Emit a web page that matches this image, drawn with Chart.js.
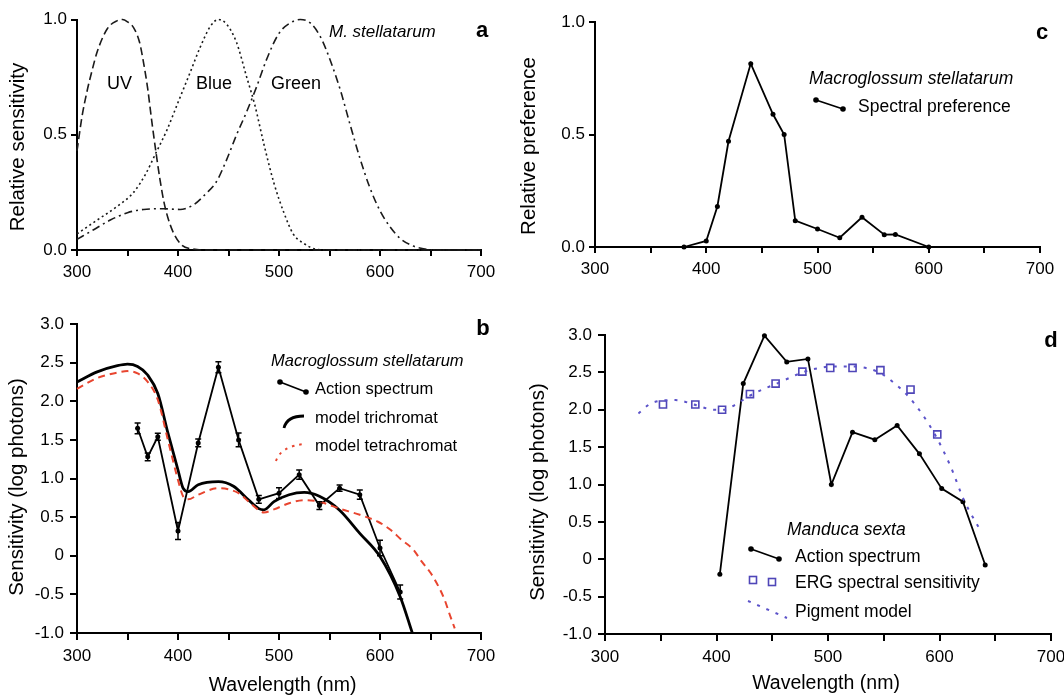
<!DOCTYPE html>
<html>
<head>
<meta charset="utf-8">
<script src="https://cdn.jsdelivr.net/npm/chart.js@4/dist/chart.umd.min.js"></script>
<style>
  html, body { margin: 0; padding: 0; background: #fff; overflow: hidden; }
  body { width: 1064px; height: 699px; position: relative; }
  canvas { position: absolute; left: 0; top: 0; }
</style>
</head>
<body>
<canvas id="panelA" width="1100" height="720"></canvas>
<canvas id="panelB" width="1100" height="720"></canvas>
<canvas id="panelC" width="1100" height="720"></canvas>
<canvas id="panelD" width="1100" height="720"></canvas>
<script>
// (a) receptor sensitivities, M. stellatarum
const uvNm     = [300, 305, 310, 315, 320, 330, 340, 345, 350, 356, 362, 366, 370, 374, 378, 382, 386, 390, 396, 404, 415, 425, 700];
const uvSens   = [0.43, 0.58, 0.69, 0.78, 0.86, 0.96, 0.995, 1.0, 0.99, 0.965, 0.9, 0.81, 0.7, 0.56, 0.43, 0.31, 0.21, 0.14, 0.07, 0.02, 0.004, 0, 0];
const blueNm   = [300, 320, 340, 356, 368, 378, 389, 400, 412, 422, 432, 440, 448, 458, 468, 476, 485, 495, 505, 514, 524, 537, 550, 700];
const blueSens = [0.07, 0.13, 0.19, 0.25, 0.33, 0.42, 0.52, 0.64, 0.77, 0.88, 0.97, 1.0, 0.98, 0.9, 0.75, 0.63, 0.46, 0.29, 0.16, 0.07, 0.03, 0.003, 0, 0];
const greenNm  = [300, 316, 333, 350, 366, 386, 402, 415, 428, 438, 448, 458, 468, 478, 488, 500, 511, 521, 531, 541, 551, 561, 570, 580, 590, 600, 610, 620, 633, 646, 660, 700];
const greenSens= [0.046, 0.087, 0.13, 0.162, 0.176, 0.179, 0.176, 0.195, 0.246, 0.296, 0.39, 0.5, 0.6, 0.71, 0.83, 0.94, 0.985, 1.0, 0.985, 0.925, 0.82, 0.69, 0.55, 0.40, 0.27, 0.17, 0.10, 0.05, 0.017, 0.003, 0, 0];

// (b) action spectrum with error bars, and the two receptor models
const actNm  = [360, 370, 380, 400, 420, 440, 460, 480, 500, 520, 540, 560, 580, 600, 620];
const actLog = [1.65, 1.28, 1.54, 0.32, 1.46, 2.44, 1.50, 0.73, 0.81, 1.05, 0.65, 0.875, 0.79, 0.1, -0.47];
const actErr = [0.07, 0.05, 0.045, 0.11, 0.05, 0.07, 0.09, 0.05, 0.07, 0.06, 0.05, 0.04, 0.06, 0.1, 0.09];
const triNm  = [300, 320, 340, 350, 360, 370, 380, 390, 400, 405, 410, 420, 440, 455, 470, 480, 485, 495, 510, 525, 540, 560, 580, 600, 620, 632];
const triLog = [2.25, 2.38, 2.46, 2.48, 2.45, 2.34, 2.1, 1.59, 1.11, 0.875, 0.83, 0.92, 0.96, 0.9, 0.72, 0.61, 0.595, 0.70, 0.79, 0.82, 0.77, 0.59, 0.29, -0.01, -0.53, -1.0];
const tetNm  = [300, 320, 340, 350, 360, 370, 380, 390, 400, 405, 410, 420, 440, 460, 470, 480, 485, 495, 510, 525, 540, 560, 580, 598, 610, 621, 633, 641, 650, 658, 664, 669, 674];
const tetLog = [2.16, 2.3, 2.37, 2.39, 2.36, 2.25, 2.02, 1.5, 0.98, 0.77, 0.73, 0.79, 0.875, 0.81, 0.70, 0.59, 0.56, 0.6, 0.68, 0.72, 0.7, 0.61, 0.53, 0.44, 0.34, 0.21, 0.08, -0.07, -0.22, -0.4, -0.57, -0.76, -0.94];

// (c) spectral preference
const prefNm  = [380, 400, 410, 420, 440, 460, 470, 480, 500, 520, 540, 560, 570, 600];
const prefVal = [0, 0.027, 0.18, 0.47, 0.815, 0.59, 0.5, 0.117, 0.08, 0.041, 0.132, 0.055, 0.056, 0];

// (d) Manduca sexta
const mActNm  = [403, 424, 443, 463, 482, 503, 522, 542, 562, 582, 602, 621, 641];
const mActLog = [-0.2, 2.35, 2.99, 2.64, 2.68, 1.0, 1.70, 1.6, 1.79, 1.41, 0.945, 0.77, -0.076];
const ergNm   = [352, 381, 405, 430, 453, 477, 502, 522, 547, 574, 598];
const ergLog  = [2.07, 2.07, 2.0, 2.21, 2.35, 2.51, 2.56, 2.56, 2.53, 2.27, 1.67];
const pigNm   = [330, 342, 363, 382, 398, 407, 416, 429, 441, 454, 466, 479, 491, 504, 522, 535, 547, 560, 572, 585, 597, 610, 622, 638];
const pigLog  = [1.95, 2.09, 2.13, 2.06, 2.0, 2.0, 2.06, 2.18, 2.27, 2.35, 2.43, 2.51, 2.555, 2.58, 2.58, 2.555, 2.49, 2.35, 2.18, 1.93, 1.64, 1.24, 0.79, 0.35];

const FONT = '"Liberation Sans", Arial, Helvetica, sans-serif';
const CW = 1100, CH = 720;     // canvas size (wider than the window, edge is cut)
const RED = '#e8452f';
const ERG_BLUE = '#4f46b8';
const PIG_BLUE = '#5b52c9';
const ROT = -Math.PI/2;

Chart.defaults.font.family = FONT;
Chart.defaults.color = '#000';

let pts = (xs, ys) => xs.map((x, i) => ({x, y: ys[i]}));

function line(ctx, x1, y1, x2, y2, width, color, dash) {
  ctx.save();
  ctx.strokeStyle = color || '#000';
  ctx.lineWidth = width;
  ctx.setLineDash(dash || []);
  ctx.beginPath();
  ctx.moveTo(x1, y1);
  ctx.lineTo(x2, y2);
  ctx.stroke();
  ctx.restore();
}

function dot(ctx, x, y, r) {
  ctx.beginPath();
  ctx.arc(x, y, r, 0, 2*Math.PI);
  ctx.fillStyle = '#000';
  ctx.fill();
}

// connected-dots legend key
function dotKey(ctx, x1, y1, x2, y2) {
  line(ctx, x1, y1, x2, y2, 1.8);
  dot(ctx, x1, y1, 2.8);
  dot(ctx, x2, y2, 2.8);
}

// texts and legend keys, drawn after the chart
function decor(id, texts, keys) {
  return {
    id,
    afterDraw(chart) {
      let ctx = chart.ctx;
      keys && keys(ctx);
      texts.forEach(t => {
        ctx.save();
        ctx.font = `${t.style || ''} ${t.size}px ${FONT}`;
        ctx.fillStyle = '#000';
        ctx.textAlign = t.align || 'left';
        ctx.textBaseline = 'middle';
        ctx.translate(t.x, t.y);
        t.rot && ctx.rotate(t.rot);
        ctx.fillText(t.text, 0, 0);
        ctx.restore();
      });
    },
  };
}

function panel(id, area, yRange, opts) {
  let [L, T, R, B] = area;
  let axisW = 60, axisH = 60;
  let tickLen = opts.tickLen || 6;
  let axisLine = {display: true, color: '#000', width: 2};
  let tickMarks = {drawOnChartArea: false, drawTicks: true, tickLength: tickLen, color: '#000', lineWidth: 2};
  return new Chart(document.getElementById(id), {
    type: 'line',
    data: {datasets: opts.datasets},
    options: {
      responsive: false,
      animation: false,
      devicePixelRatio: 1,
      layout: {padding: {left: L - axisW, top: T, right: CW - R, bottom: CH - B - axisH}},
      plugins: {legend: {display: false}, tooltip: {enabled: false}},
      elements: {point: {radius: 0}},
      scales: {
        x: {
          type: 'linear', min: 300, max: 700,
          afterFit: s => { s.height = axisH; },
          border: axisLine,
          grid: tickMarks,
          ticks: {
            stepSize: 50, autoSkip: false, maxRotation: 0, padding: 6,
            color: '#000', font: {size: 17},
            callback: v => v % 100 === 0 ? String(v) : '',
          },
        },
        y: {
          type: 'linear', min: yRange[0], max: yRange[1],
          afterFit: s => { s.width = axisW; },
          border: axisLine,
          grid: tickMarks,
          ticks: {
            stepSize: 0.5, padding: opts.tickPad || 4,
            color: '#000', font: {size: 17},
            callback: v => (opts.plainZero && v === 0) ? '0' : v.toFixed(1),
          },
        },
      },
    },
    plugins: opts.plugins,
  });
}

let curve = (nm, vals, extra) => Object.assign({
  data: pts(nm, vals),
  borderColor: '#1a1a1a',
  borderWidth: 1.6,
  cubicInterpolationMode: 'monotone',
  pointRadius: 0,
  clip: false,
}, extra);

let connected = (nm, vals) => ({
  data: pts(nm, vals),
  borderColor: '#000',
  borderWidth: 1.8,
  pointRadius: 2.5,
  pointBackgroundColor: '#000',
  pointBorderWidth: 0,
  clip: false,
});

// a
panel('panelA', [77, 19.5, 481, 250], [0, 1], {
  datasets: [
    curve(uvNm, uvSens, {borderDash: [8, 4]}),
    curve(blueNm, blueSens, {borderDash: [2, 3]}),
    curve(greenNm, greenSens, {borderDash: [8, 4, 2, 4]}),
  ],
  plugins: [decor('textA', [
    {text: 'Relative sensitivity', x: 18, y: 147, size: 20.5, rot: ROT, align: 'center'},
    {text: 'UV', x: 119.5, y: 84, size: 18, align: 'center'},
    {text: 'Blue', x: 214, y: 84, size: 18, align: 'center'},
    {text: 'Green', x: 296, y: 84, size: 18, align: 'center'},
    {text: 'M. stellatarum', x: 329, y: 32, size: 17, style: 'italic'},
    {text: 'a', x: 482, y: 31, size: 22, style: 'bold', align: 'center'},
  ])],
});

// b
const errorBars = {
  id: 'errorBars',
  afterDatasetsDraw(chart) {
    let {ctx, scales: {x, y}} = chart;
    ctx.save();
    ctx.strokeStyle = '#000';
    ctx.lineWidth = 1.5;
    actNm.forEach((nm, i) => {
      let px = x.getPixelForValue(nm);
      let lo = y.getPixelForValue(actLog[i] - actErr[i]);
      let hi = y.getPixelForValue(actLog[i] + actErr[i]);
      ctx.beginPath();
      ctx.moveTo(px, lo); ctx.lineTo(px, hi);
      ctx.moveTo(px - 3, lo); ctx.lineTo(px + 3, lo);
      ctx.moveTo(px - 3, hi); ctx.lineTo(px + 3, hi);
      ctx.stroke();
    });
    ctx.restore();
  },
};

panel('panelB', [77, 324, 481, 633], [-1, 3], {
  tickLen: 7, tickPad: 6, plainZero: true,
  datasets: [
    curve(tetNm, tetLog, {borderColor: RED, borderWidth: 2, borderDash: [7, 5]}),
    curve(triNm, triLog, {borderColor: '#000', borderWidth: 2.8}),
    connected(actNm, actLog),
  ],
  plugins: [errorBars, decor('textB', [
    {text: 'Sensitivity (log photons)', x: 17.5, y: 487, size: 20.5, rot: ROT, align: 'center'},
    {text: 'Wavelength (nm)', x: 282.5, y: 686, size: 19.5, align: 'center'},
    {text: 'Macroglossum stellatarum', x: 271, y: 361, size: 16.5, style: 'italic'},
    {text: 'Action spectrum', x: 315, y: 389, size: 16.5},
    {text: 'model trichromat', x: 315, y: 418, size: 16.5},
    {text: 'model tetrachromat', x: 315, y: 446, size: 16.5},
    {text: 'b', x: 483, y: 329, size: 22, style: 'bold', align: 'center'},
  ], ctx => {
    dotKey(ctx, 280, 382, 306, 392);
    ctx.save();
    ctx.lineWidth = 2.8;
    ctx.strokeStyle = '#000';
    ctx.beginPath();
    ctx.moveTo(284, 428);
    ctx.quadraticCurveTo(287, 416, 304, 416);
    ctx.stroke();
    ctx.strokeStyle = RED;
    ctx.lineWidth = 2;
    ctx.setLineDash([2.5, 5]);
    ctx.beginPath();
    ctx.moveTo(276, 461);
    ctx.quadraticCurveTo(281, 446, 305, 444);
    ctx.stroke();
    ctx.restore();
  })],
});

// c
panel('panelC', [595, 22, 1040, 247], [0, 1], {
  datasets: [connected(prefNm, prefVal)],
  plugins: [decor('textC', [
    {text: 'Relative preference', x: 529, y: 146, size: 20.5, rot: ROT, align: 'center'},
    {text: 'Macroglossum stellatarum', x: 809, y: 79, size: 17.5, style: 'italic'},
    {text: 'Spectral preference', x: 858, y: 107, size: 17.5},
    {text: 'c', x: 1042, y: 33, size: 22, style: 'bold', align: 'center'},
  ], ctx => dotKey(ctx, 816, 100, 843, 109))],
});

// d
panel('panelD', [605, 335, 1051, 634], [-1, 3], {
  tickLen: 7, tickPad: 6, plainZero: true,
  datasets: [
    curve(pigNm, pigLog, {borderColor: PIG_BLUE, borderWidth: 2, borderDash: [3, 7]}),
    {
      data: pts(ergNm, ergLog),
      showLine: false,
      pointStyle: 'rect',
      pointRadius: 5,
      pointBorderColor: ERG_BLUE,
      pointBackgroundColor: 'rgba(255,255,255,0)',
      pointBorderWidth: 1.6,
      clip: false,
    },
    connected(mActNm, mActLog),
  ],
  plugins: [decor('textD', [
    {text: 'Sensitivity (log photons)', x: 538, y: 492, size: 20.5, rot: ROT, align: 'center'},
    {text: 'Wavelength (nm)', x: 826, y: 684, size: 19.5, align: 'center'},
    {text: 'Manduca sexta', x: 787, y: 530, size: 17.5, style: 'italic'},
    {text: 'Action spectrum', x: 795, y: 557, size: 17.5},
    {text: 'ERG spectral sensitivity', x: 795, y: 583, size: 17.5},
    {text: 'Pigment model', x: 795, y: 612, size: 17.5},
    {text: 'd', x: 1051, y: 341, size: 22, style: 'bold', align: 'center'},
  ], ctx => {
    dotKey(ctx, 751, 549, 779, 559);
    ctx.save();
    ctx.strokeStyle = ERG_BLUE;
    ctx.lineWidth = 1.6;
    ctx.strokeRect(749.5, 576.5, 7, 7);
    ctx.strokeRect(768.5, 578.5, 7, 7);
    ctx.restore();
    line(ctx, 748, 601, 787, 618, 2, PIG_BLUE, [3, 7]);
  })],
});
</script>
</body>
</html>
